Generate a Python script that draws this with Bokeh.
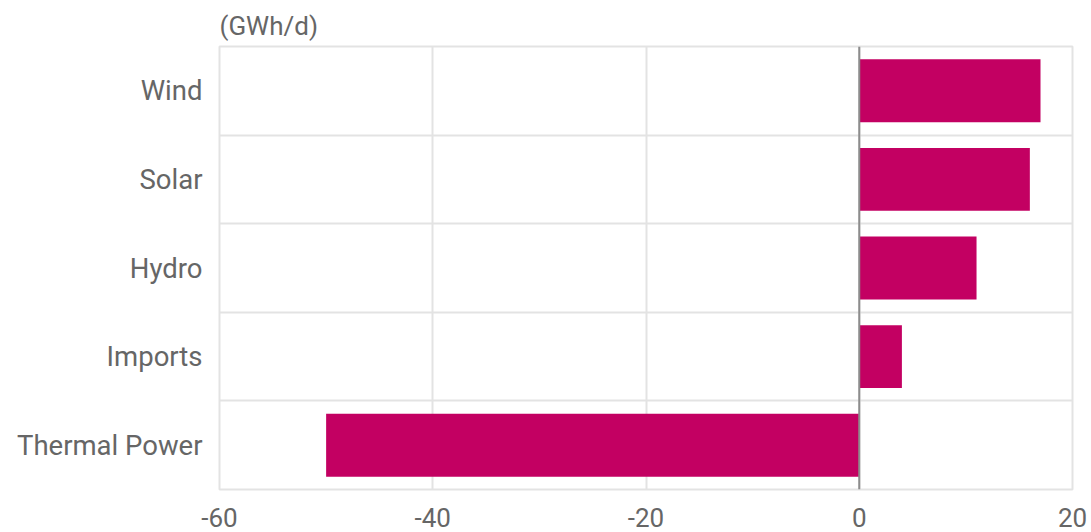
from bokeh.plotting import figure
from bokeh.models import FixedTicker, Range1d, Title
from bokeh.embed import file_html
from bokeh.resources import INLINE

# Change in daily generation by source (GWh/d)
categories = ["Wind", "Solar", "Hydro", "Imports", "Thermal Power"]
values = [17, 16, 11, 4, -50]
x_ticks = [-60, -40, -20, 0, 20]
x_tick_labels = ["-60", "-40", "-20", "0", "20"]

BAR = "#C30062"
GRID = "#e3e3e3"
TEXT = "#666666"
FONT = "Roboto"

n = len(categories)
# Top category sits at the top of the frame
ypos = [n - 1 - i + 0.5 for i in range(n)]

p = figure(width=1091, height=532, output_backend="svg", toolbar_location=None,
           x_range=Range1d(-60, 20), y_range=Range1d(0, n),
           min_border_left=219, min_border_right=19, min_border_top=46,
           min_border_bottom=43)

p.hbar(y=ypos, left=0, right=values, height=0.71, color=BAR, line_color=None)

# zero line
p.segment(x0=[0], y0=[0], x1=[0], y1=[n], line_color="#8c8c8c", line_width=2)

p.xaxis.ticker = FixedTicker(ticks=x_ticks)
p.xaxis.major_label_overrides = {t: s for t, s in zip(x_ticks, x_tick_labels)}
p.yaxis.ticker = FixedTicker(ticks=ypos)
p.yaxis.major_label_overrides = {y: c for y, c in zip(ypos, categories)}

for ax in (p.xaxis[0], p.yaxis[0]):
    ax.axis_line_color = None
    ax.major_tick_line_color = None
    ax.minor_tick_line_color = None
    ax.major_label_text_color = TEXT
    ax.major_label_text_font = FONT
p.xaxis.major_label_text_font_size = "26px"
p.xaxis.major_label_standoff = 12
p.yaxis.major_label_text_font_size = "27.5px"
p.yaxis.major_label_standoff = 11

p.xgrid.ticker = FixedTicker(ticks=x_ticks)
p.xgrid.grid_line_color = GRID
p.xgrid.grid_line_width = 2
p.ygrid.ticker = FixedTicker(ticks=list(range(n + 1)))
p.ygrid.grid_line_color = GRID
p.ygrid.grid_line_width = 2

p.outline_line_color = GRID
p.outline_line_width = 2

p.title = Title(text="(GWh/d)", align="left", text_font=FONT,
                text_font_size="26px", text_color=TEXT, text_font_style="normal",
                offset=0, standoff=12)

open("out.html", "w").write(file_html(p, INLINE))
